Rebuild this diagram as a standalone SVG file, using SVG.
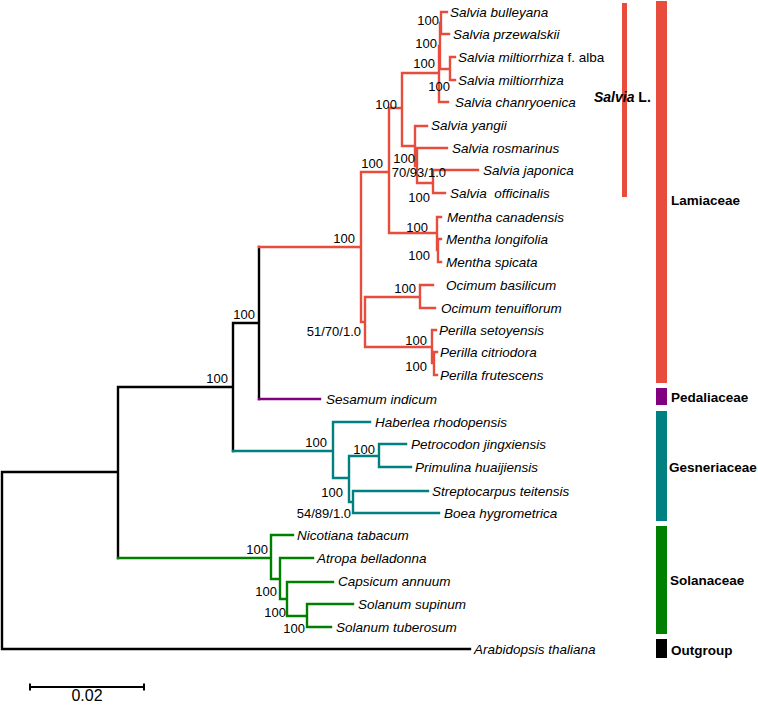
<svg xmlns="http://www.w3.org/2000/svg" width="758" height="706" viewBox="0 0 758 706">
<style>
.b{fill:none;stroke-width:2.4;stroke-linecap:square;stroke-linejoin:miter}
.k{stroke:#000}.r{stroke:#E74C3C}.p{stroke:#800080}.t{stroke:#008080}.g{stroke:#008000}
text{font-family:"Liberation Sans",Arial,sans-serif}
.sp{font-size:13.5px;font-style:italic;fill:#000}
.bs{font-size:13px;fill:#000;text-anchor:end}
.fam{font-size:13.5px;font-weight:bold;fill:#000}
</style>
<rect width="758" height="706" fill="#fff"/>
<g id="connectors">
<path class="b k" d="M2 472V649M2 472H118M118 387V558M118 387H233M233 323V451M233 323H259M259 247V399M2 649H470"/>
<path class="b r" d="M259 247H361M361 172V322M361 322H365M365 297V347M365 297H420M420 285V308M420 285H433M420 308H435M365 347H432M432 330V363M432 330H436M432 363H434M434 352V375M434 352H437M434 375H437M361 172H389M389 108V233M389 233H437M437 217V250M437 217H441M437 250H438M438 239V262M438 239H441M438 262H441M389 108H402M402 73V146M402 73H439M439 46V102M439 102H448M439 46H440M440 23V69M440 23H441M441 12V34M441 12H447M441 34H449M440 69H450M450 57V80M450 57H455M450 80H455M402 146H415M415 126V166M415 126H427M415 166H417M417 148V183M417 148H447M417 183H433M433 170V193M433 170H478M433 193H445"/>
<path class="b p" d="M259 399H320"/>
<path class="b t" d="M233 451H333M333 422V478M333 422H370M333 478H349M349 456V502M349 456H379M379 444V467M379 444H406M379 467H411M349 502H353M353 491V513M353 491H428M353 513H439"/>
<path class="b g" d="M118 558H271M271 535V579M271 535H293M271 579H280M280 558V599M280 558H313M280 599H287M287 582V616M287 582H333M287 616H307M307 604V627M307 604H353M307 627H331"/>
</g>
<g id="tips" class="sp">
<g id="n-bulleyana"><text x="450" y="17">Salvia bulleyana</text></g>
<g id="n-przewalskii"><text x="453" y="39">Salvia przewalskii</text></g>
<g id="n-miltiorrhiza-alba"><text x="458" y="62">Salvia miltiorrhiza <tspan font-style="normal">f. alba</tspan></text></g>
<g id="n-miltiorrhiza"><text x="458" y="85">Salvia miltiorrhiza</text></g>
<g id="n-chanryoenica"><text x="455" y="107">Salvia chanryoenica</text></g>
<g id="n-yangii"><text x="431" y="130">Salvia yangii</text></g>
<g id="n-rosmarinus"><text x="452" y="153">Salvia rosmarinus</text></g>
<g id="n-japonica"><text x="483" y="175">Salvia japonica</text></g>
<g id="n-officinalis"><text x="450" y="198" xml:space="preserve">Salvia  officinalis</text></g>
<g id="n-canadensis"><text x="447" y="222">Mentha canadensis</text></g>
<g id="n-longifolia"><text x="446" y="244">Mentha longifolia</text></g>
<g id="n-spicata"><text x="446" y="267">Mentha spicata</text></g>
<g id="n-basilicum"><text x="446" y="290">Ocimum basilicum</text></g>
<g id="n-tenuiflorum"><text x="441" y="313">Ocimum tenuiflorum</text></g>
<g id="n-setoyensis"><text x="439" y="335">Perilla setoyensis</text></g>
<g id="n-citriodora"><text x="440" y="357">Perilla citriodora</text></g>
<g id="n-frutescens"><text x="440" y="380">Perilla frutescens</text></g>
<g id="n-sesamum"><text x="326" y="404">Sesamum indicum</text></g>
<g id="n-haberlea"><text x="375" y="427">Haberlea rhodopensis</text></g>
<g id="n-petrocodon"><text x="411" y="449">Petrocodon jingxiensis</text></g>
<g id="n-primulina"><text x="415" y="472">Primulina huaijiensis</text></g>
<g id="n-streptocarpus"><text x="432" y="496">Streptocarpus teitensis</text></g>
<g id="n-boea"><text x="444" y="518">Boea hygrometrica</text></g>
<g id="n-nicotiana"><text x="297" y="540">Nicotiana tabacum</text></g>
<g id="n-atropa"><text x="317" y="563">Atropa belladonna</text></g>
<g id="n-capsicum"><text x="338" y="586">Capsicum annuum</text></g>
<g id="n-supinum"><text x="358" y="609">Solanum supinum</text></g>
<g id="n-tuberosum"><text x="336" y="632">Solanum tuberosum</text></g>
<g id="n-arabidopsis"><text x="474" y="654">Arabidopsis thaliana</text></g>
</g>
<g id="support" class="bs">
<text x="439" y="25">100</text>
<text x="437" y="48">100</text>
<text x="435" y="68">100</text>
<text x="450" y="91">100</text>
<text x="397" y="109">100</text>
<text x="415" y="163">100</text>
<text x="446" y="177">70/93/1.0</text>
<text x="430" y="202">100</text>
<text x="383" y="168">100</text>
<text x="428" y="232">100</text>
<text x="355" y="243">100</text>
<text x="430" y="260">100</text>
<text x="416" y="293">100</text>
<text x="361" y="336">51/70/1.0</text>
<text x="427" y="345">100</text>
<text x="427" y="371">100</text>
<text x="255" y="319">100</text>
<text x="228" y="383">100</text>
<text x="327" y="447">100</text>
<text x="375" y="454">100</text>
<text x="343" y="497">100</text>
<text x="351" y="518">54/89/1.0</text>
<text x="268" y="554">100</text>
<text x="277" y="596">100</text>
<text x="286" y="617">100</text>
<text x="305" y="633">100</text>
</g>
<g id="salvia-bar">
<rect x="622" y="3" width="5" height="194" fill="#E74C3C"/>
<text x="594" y="102" font-size="14" font-weight="bold"><tspan font-style="italic">Salvia</tspan> L.</text>
</g>
<g id="family-bars">
<g id="lamiaceae"><rect x="656" y="1" width="11" height="382" fill="#E74C3C"/><text class="fam" x="671" y="205">Lamiaceae</text></g>
<g id="pedaliaceae"><rect x="656" y="388" width="11" height="17" fill="#800080"/><text class="fam" x="671" y="402">Pedaliaceae</text></g>
<g id="gesneriaceae"><rect x="656" y="411" width="11" height="110" fill="#008080"/><text class="fam" x="669" y="472">Gesneriaceae</text></g>
<g id="solanaceae"><rect x="656" y="526" width="11" height="108" fill="#008000"/><text class="fam" x="670" y="585">Solanaceae</text></g>
<g id="outgroup"><rect x="656" y="639" width="11" height="19" fill="#000"/><text class="fam" x="671" y="655">Outgroup</text></g>
</g>
<g id="scale-bar">
<path d="M30 687H144M30 683.5V690.5M144 683.5V690.5" fill="none" stroke="#000" stroke-width="2"/>
<text x="87" y="701" font-size="16" text-anchor="middle">0.02</text>
</g>
</svg>
